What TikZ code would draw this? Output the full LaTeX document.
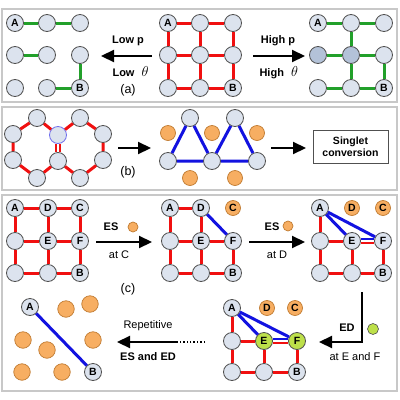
\documentclass[tikz,border=0pt]{standalone}
\usepackage{fontspec}
\setmainfont{Liberation Sans}
\usetikzlibrary{arrows.meta}
\definecolor{nfill}{HTML}{DCE3EE}
\definecolor{nshade}{HTML}{B3C2D8}
\definecolor{ngray}{HTML}{505050}
\definecolor{orng}{HTML}{F7AE62}
\definecolor{oedge}{HTML}{C07A30}
\definecolor{gnode}{HTML}{BDE04A}
\definecolor{myred}{HTML}{F01010}
\definecolor{mygreen}{HTML}{22A02A}
\definecolor{myblue}{HTML}{1212E0}
\definecolor{frame}{HTML}{C8C8C8}
\begin{document}
\begin{tikzpicture}[x=1pt,y=-1pt,
  nd/.style={circle,draw=ngray,fill=nfill,minimum size=17pt,inner sep=0pt,line width=0.8pt,font=\bfseries\fontsize{10.5}{10.5}\selectfont},
  sh/.style={nd,fill=nshade},
  gn/.style={nd,fill=gnode},
  od/.style={circle,draw=oedge,fill=orng,minimum size=15pt,inner sep=0pt,line width=0.7pt,font=\bfseries\fontsize{10.5}{10.5}\selectfont},
  odb/.style={od,minimum size=16.5pt},
  odsm/.style={od,minimum size=10pt},
  gsm/.style={circle,draw=ngray,fill=gnode,minimum size=11pt,inner sep=0pt,line width=0.6pt},
  re/.style={draw=myred,line width=3pt},
  ge/.style={draw=mygreen,line width=3pt},
  be/.style={draw=myblue,line width=3pt},
  arr/.style={draw=black,line width=2.2pt,-{Triangle[length=13pt,width=12pt]}},
  pan/.style={draw=frame,line width=1.6pt},
  lbl/.style={font=\bfseries\fontsize{11}{13}\selectfont},
  txt/.style={font=\fontsize{11}{13}\selectfont},
  sub/.style={font=\fontsize{12.5}{14}\selectfont},
  th/.style={font=\fontsize{14}{14}\selectfont}
]
\useasboundingbox (0,0) rectangle (400,400);
% frames
\draw[pan] (2,9) rectangle (397,102);
\draw[pan] (2,107) rectangle (397,190);
\draw[pan] (2,195) rectangle (397,391);

% ---------- panel (a) left grid
\node[nd] (L11) at (15,23) {A};
\node[nd] (L12) at (47,23) {};
\node[nd] (L13) at (80,23) {};
\node[nd] (L21) at (15,55) {};
\node[nd] (L22) at (47,55) {};
\node[nd] (L23) at (80,55) {};
\node[nd] (L31) at (15,88) {};
\node[nd] (L32) at (47,88) {};
\node[nd] (L33) at (80,88) {B};
\draw[ge] (L11)--(L12) (L12)--(L13) (L21)--(L22) (L23)--(L33) (L32)--(L33);

% middle grid
\node[nd] (M11) at (168,23) {A};
\node[nd] (M12) at (200,23) {};
\node[nd] (M13) at (233,23) {};
\node[nd] (M21) at (168,55) {};
\node[nd] (M22) at (200,55) {};
\node[nd] (M23) at (233,55) {};
\node[nd] (M31) at (168,88) {};
\node[nd] (M32) at (200,88) {};
\node[nd] (M33) at (233,88) {B};
\draw[re] (M11)--(M12) (M12)--(M13) (M21)--(M22) (M22)--(M23) (M31)--(M32) (M32)--(M33)
  (M11)--(M21) (M21)--(M31) (M12)--(M22) (M22)--(M32) (M13)--(M23) (M23)--(M33);

% right grid
\node[nd] (R11) at (318,23) {A};
\node[nd] (R12) at (351,23) {};
\node[nd] (R13) at (384,23) {};
\node[sh] (R21) at (318,55) {};
\node[sh] (R22) at (351,55) {};
\node[nd] (R23) at (384,55) {};
\node[nd] (R31) at (318,88) {};
\node[nd] (R32) at (351,88) {};
\node[nd] (R33) at (384,88) {B};
\draw[ge] (R11)--(R12) (R12)--(R13) (R12)--(R22) (R21)--(R22) (R22)--(R23)
  (R22)--(R32) (R23)--(R33) (R31)--(R32) (R32)--(R33);

% arrows (a)
\coordinate (aLs) at (152,56); \coordinate (aLe) at (101,56);
\draw[arr] (aLs)--(aLe);
\node[lbl] (lowp) at (128,41) {Low p};
\node[lbl,anchor=base west] (lowt) at (109,76) {Low};
\node[th,anchor=base west] (lowth) at (lowt.base east) {$\theta$};
\node[sub] (suba) at (128,90) {(a)};
\coordinate (aRs) at (253,56); \coordinate (aRe) at (305,56);
\draw[arr] (aRs)--(aRe);
\node[lbl] (highp) at (278,41) {High p};
\node[lbl,anchor=base west] (hight) at (256,76) {High};
\node[th,anchor=base west] (highth) at (hight.base east) {$\theta$};

% ---------- panel (b)
\node[nd] (h1) at (37,118) {};
\node[nd] (h2) at (13,134) {};
\node[nd] (h3) at (13,160) {};
\node[nd] (h4) at (37,178) {};
\node[nd] (h5) at (58,161) {};
\node[nd,draw=myblue!60] (h6) at (58,135) {};
\node[nd] (h7) at (80,118) {};
\node[nd] (h8) at (103,134) {};
\node[nd] (h9) at (103,160) {};
\node[nd] (h10) at (80,178) {};
\draw[re] (h1)--(h2) (h2)--(h3) (h3)--(h4) (h4)--(h5) (h1)--(h6) (h6)--(h7)
  (h7)--(h8) (h8)--(h9) (h9)--(h10) (h10)--(h5);
\draw[re,line width=1.9pt] ([xshift=-2.3pt]h6.south)--([xshift=-2.3pt]h5.north);
\draw[re,line width=1.9pt] ([xshift=2.3pt]h6.south)--([xshift=2.3pt]h5.north);

\coordinate (b1s) at (118,148); \coordinate (b1e) at (151,148);
\draw[arr] (b1s)--(b1e);
\node[sub] (subb) at (128,172) {(b)};

\node[nd] (t1) at (190,118) {};
\node[nd] (t2) at (235,118) {};
\node[nd] (q1) at (168,161) {};
\node[nd] (q2) at (212,161) {};
\node[nd] (q3) at (257,161) {};
\draw[be] (q1)--(t1) (t1)--(q2) (q1)--(q2) (q2)--(t2) (t2)--(q3) (q2)--(q3);
\node[od] (o1) at (168,133) {};
\node[od] (o2) at (212,133) {};
\node[od] (o3) at (257,133) {};
\node[od] (o4) at (190,178) {};
\node[od] (o5) at (235,178) {};

\coordinate (b2s) at (271,148); \coordinate (b2e) at (306,148);
\draw[arr] (b2s)--(b2e);
\node[draw=ngray,line width=0.8pt,minimum width=75pt,minimum height=33pt,align=center,
  font=\bfseries\fontsize{10.5}{12.5}\selectfont] (sing) at (350.5,146.5) {Singlet\\conversion};

% ---------- panel (c) grid 1
\node[nd] (A1) at (15,208) {A};
\node[nd] (D1) at (48,208) {D};
\node[nd] (C1) at (80,208) {C};
\node[nd] (X1) at (15,241) {};
\node[nd] (E1) at (48,241) {E};
\node[nd] (F1) at (80,241) {F};
\node[nd] (Y1) at (15,273) {};
\node[nd] (Z1) at (48,273) {};
\node[nd] (B1) at (80,273) {B};
\draw[re] (A1)--(D1) (D1)--(C1) (X1)--(E1) (E1)--(F1) (Y1)--(Z1) (Z1)--(B1)
  (A1)--(X1) (X1)--(Y1) (D1)--(E1) (E1)--(Z1) (C1)--(F1) (F1)--(B1);

\coordinate (c1s) at (96,242); \coordinate (c1e) at (152,242);
\draw[arr] (c1s)--(c1e);
\node[lbl] (es1) at (111,227) {ES};
\node[odsm] (oe1) at (133,227) {};
\node[txt] (atc) at (119,255) {at C};
\node[sub] (subc) at (128,289) {(c)};

% grid 2
\node[nd] (A2) at (170,208) {A};
\node[nd] (D2) at (201,208) {D};
\node[od] (C2) at (233,208) {C};
\node[nd] (X2) at (170,241) {};
\node[nd] (E2) at (201,241) {E};
\node[nd] (F2) at (233,241) {F};
\node[nd] (Y2) at (170,273) {};
\node[nd] (Z2) at (201,273) {};
\node[nd] (B2) at (233,273) {B};
\draw[re] (A2)--(D2) (X2)--(E2) (E2)--(F2) (Y2)--(Z2) (Z2)--(B2)
  (A2)--(X2) (X2)--(Y2) (D2)--(E2) (E2)--(Z2) (F2)--(B2);
\draw[be] (D2)--(F2);

\coordinate (c2s) at (249,242); \coordinate (c2e) at (305,242);
\draw[arr] (c2s)--(c2e);
\node[lbl] (es2) at (272,227) {ES};
\node[odsm] (oe2) at (288,226) {};
\node[txt] (atd) at (277,255) {at D};

% grid 3
\node[nd] (A3) at (320,208) {A};
\node[od] (D3) at (352,208) {D};
\node[od] (C3) at (383,208) {C};
\node[nd] (X3) at (320,241) {};
\node[nd] (E3) at (352,241) {E};
\node[nd] (F3) at (383,241) {F};
\node[nd] (Y3) at (320,273) {};
\node[nd] (Z3) at (352,273) {};
\node[nd] (B3) at (383,273) {B};
\draw[re] (X3)--(E3) (Y3)--(Z3) (Z3)--(B3)
  (A3)--(X3) (X3)--(Y3) (E3)--(Z3) (F3)--(B3);
\draw[re,line width=2.1pt] ([yshift=-2.1pt]E3.east)--([yshift=-2.1pt]F3.west);
\draw[be,line width=2.1pt] ([yshift=2.1pt]E3.east)--([yshift=2.1pt]F3.west);
\draw[be] (A3)--(E3) (A3)--(F3);

% ED arrow
\coordinate (ed0) at (362,292);
\coordinate (ed1) at (362,342);
\coordinate (ed2) at (319,342);
\draw[arr] (ed0)--(ed1)--(ed2);
\node[lbl] (edl) at (347,328) {ED};
\node[gsm] (gd) at (373,329) {};
\node[txt] (atef) at (355,357) {at E and F};

% grid 4
\node[nd] (A4) at (232,308) {A};
\node[od] (D4) at (267,308) {D};
\node[od] (C4) at (295,308) {C};
\node[nd] (X4) at (232,341) {};
\node[gn] (E4) at (264,341) {E};
\node[gn] (F4) at (297,341) {F};
\node[nd] (Y4) at (232,372) {};
\node[nd] (Z4) at (264,372) {};
\node[nd] (B4) at (297,372) {B};
\draw[re] (X4)--(E4) (Y4)--(Z4) (Z4)--(B4)
  (A4)--(X4) (X4)--(Y4) (E4)--(Z4) (F4)--(B4);
\draw[re,line width=2.1pt] ([yshift=-2.1pt]E4.east)--([yshift=-2.1pt]F4.west);
\draw[be,line width=2.1pt] ([yshift=2.1pt]E4.east)--([yshift=2.1pt]F4.west);
\draw[be] (A4)--(E4) (A4)--(F4);

% repetitive arrow
\coordinate (r0) at (205,342);
\coordinate (r1) at (176,342);
\coordinate (r2) at (117,342);
\draw[line width=1.4pt,dotted] (r0)--(r1);
\draw[arr] (r1)--(r2);
\node[txt] (rep) at (148,326) {Repetitive};
\node[lbl] (esed) at (148,357) {ES and ED};

% final
\node[nd] (A5) at (30,307) {A};
\node[nd] (B5) at (93,372) {B};
\draw[be] (A5)--(B5);
\node[odb] (p1) at (66,309) {};
\node[odb] (p2) at (90,304) {};
\node[odb] (p3) at (23,340) {};
\node[odb] (p4) at (47,350) {};
\node[odb] (p5) at (93,340) {};
\node[odb] (p6) at (22,372) {};
\node[odb] (p7) at (62,372) {};
\end{tikzpicture}
\end{document}
